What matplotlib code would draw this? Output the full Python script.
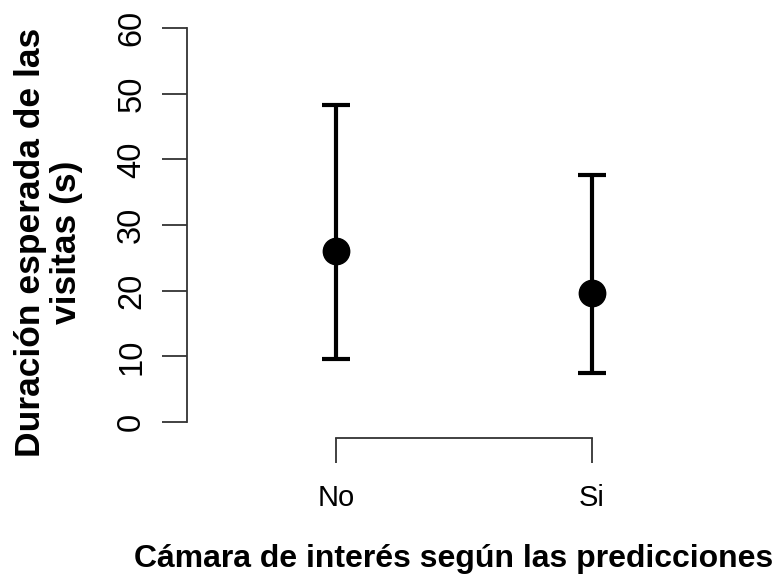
import matplotlib
matplotlib.use("Agg")
import matplotlib.pyplot as plt

plt.rcParams['font.family'] = ['Liberation Sans', 'DejaVu Sans']

## data
categories = ["No", "Si"]
means = [26.0, 19.7]
lower = [9.6, 7.5]
upper = [48.3, 37.6]
yticks = [0, 10, 20, 30, 40, 50, 60]

## figure
fig = plt.figure(figsize=(7.75, 5.77), dpi=100)
ax = fig.add_axes([0.2419, 0.2412, 0.7135, 0.7376])

xpos = [1, 2]
err_lo = [m - l for m, l in zip(means, lower)]
err_hi = [u - m for m, u in zip(means, upper)]
ax.errorbar(xpos, means, yerr=[err_lo, err_hi], fmt="o", color="black",
            ms=19, elinewidth=3, capsize=10, capthick=3)

ax.set_xlim(0.42, 2.58)
ax.set_ylim(-2.4, 62.4)

# R-like axes
for s in ["top", "right"]:
    ax.spines[s].set_visible(False)
ax.spines["left"].set_bounds(0, 60)
ax.spines["bottom"].set_bounds(1, 2)
for s in ["left", "bottom"]:
    ax.spines[s].set_linewidth(1.3)
    ax.spines[s].set_color("#333333")

ax.set_yticks(yticks)
ax.set_yticklabels([str(v) for v in yticks], rotation=90, va="center", fontsize=23.5)
ax.set_xticks(xpos)
ax.set_xticklabels(categories, fontsize=21)
ax.tick_params(axis="both", direction="out", length=18, width=1.3, color="#333333")
ax.tick_params(axis="y", pad=11)
ax.tick_params(axis="x", pad=15)

ax.set_ylabel("Duración esperada de las\nvisitas (s)", fontsize=25.5,
              fontweight="bold", linespacing=1.12)
ax.yaxis.set_label_coords(-0.1885, 0.46)
ax.set_xlabel("Cámara de interés según las predicciones", fontsize=23,
              fontweight="bold")
ax.xaxis.set_label_coords(0.481, -0.2495)

fig.savefig("out.png", dpi=100)
